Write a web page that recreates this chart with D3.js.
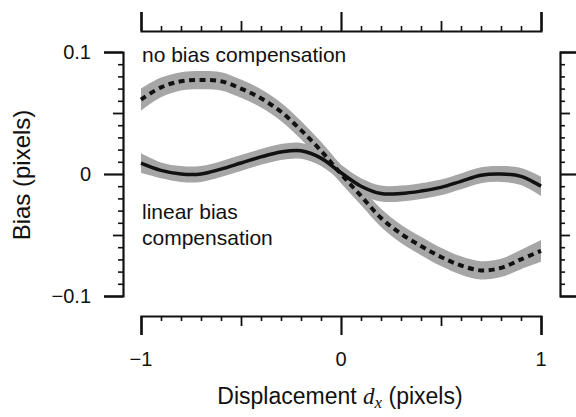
<!DOCTYPE html>
<html>
<head>
<meta charset="utf-8">
<script src="https://cdn.jsdelivr.net/npm/d3@7"></script>
<style>
  html, body { margin: 0; padding: 0; background: #fff; }
  svg { display: block; }
  text { font-family: "Liberation Sans", Arial, Helvetica, sans-serif; fill: #111; }
</style>
</head>
<body>
<svg id="chart" width="576" height="417"></svg>
<script>
// ---- data ----
const displacement = [-1.0,-0.9,-0.8,-0.7,-0.6,-0.5,-0.4,-0.3,-0.2,-0.1,0.0,0.1,0.2,0.3,0.4,0.5,0.6,0.7,0.8,0.9,1.0];
const biasNoComp   = [0.061,0.071,0.076,0.077,0.076,0.070,0.062,0.051,0.036,0.019,0.000,-0.018,-0.036,-0.049,-0.059,-0.068,-0.075,-0.079,-0.077,-0.070,-0.063];
const bandNoComp   = [0.009,0.008,0.0075,0.0075,0.0075,0.0075,0.0075,0.0075,0.0075,0.0075,0.0075,0.0075,0.0075,0.0075,0.0075,0.0075,0.0075,0.0075,0.0075,0.008,0.009];
const biasLinComp  = [0.009,0.003,0.000,0.000,0.004,0.009,0.014,0.018,0.019,0.013,0.001,-0.010,-0.016,-0.016,-0.014,-0.011,-0.006,-0.001,0.000,-0.002,-0.010];
const bandLinComp  = [0.008,0.0065,0.0065,0.0065,0.0065,0.0065,0.0065,0.0065,0.0065,0.0065,0.0065,0.0065,0.0065,0.0065,0.0065,0.0065,0.0065,0.0065,0.0065,0.007,0.008];
const xMajorTicks  = [-1, 0, 1];
const xTickLabels  = ["\u22121", "0", "1"];
const yMajorTicks  = [-0.1, 0, 0.1];
const yTickLabels  = ["\u22120.1", "0", "0.1"];
const labelNoComp  = "no bias compensation";
const labelLinComp = ["linear bias", "compensation"];

// ---- layout ----
const svg = d3.select("#chart");
const x = d3.scaleLinear().domain([-1, 1]).range([141, 541]);
const y = d3.scaleLinear().domain([-0.1, 0.1]).range([296, 52]);

const xMinor = d3.range(-10, 11).map(i => i / 10).filter(v => Math.abs(v) !== 1 && v !== 0 && Math.abs(v) !== 0.5);
const xMed = [-0.5, 0.5];
const yMinor = d3.range(-10, 11).map(i => i / 100).filter(v => Math.abs(v) !== 0.1 && v !== 0 && Math.abs(v) !== 0.05);
const yMed = [-0.05, 0.05];

const MAJ = 19, MED = 10, MIN = 5;

function styleAxis(g, sw) {
  g.selectAll("path.domain").attr("stroke", "#111").attr("stroke-width", 2.2);
  g.selectAll(".tick line").attr("stroke", "#111").attr("stroke-width", sw || 1.8);
  g.selectAll(".tick text").remove();
}

function drawAxis(axisFn, scale, pos, transform) {
  const g = svg.append("g").attr("transform", transform);
  g.append("g").call(axisFn(scale).tickValues(pos.minor).tickSize(MIN).tickSizeOuter(0).tickFormat(""))
    .call(g2 => { g2.select("path.domain").remove(); styleAxis(g2, 1.6); });
  g.append("g").call(axisFn(scale).tickValues(pos.med).tickSize(MED).tickSizeOuter(0).tickFormat(""))
    .call(g2 => { g2.select("path.domain").remove(); styleAxis(g2, 1.8); });
  g.append("g").call(axisFn(scale).tickValues(pos.major).tickSize(MAJ).tickSizeOuter(MAJ).tickFormat(""))
    .call(g2 => styleAxis(g2, 2.2));
  return g;
}

// axes (range-frame, ticks outward)
drawAxis(d3.axisBottom, x, {minor: xMinor, med: xMed, major: xMajorTicks}, "translate(0,316)");
drawAxis(d3.axisTop, x, {minor: xMinor, med: xMed, major: xMajorTicks}, "translate(0,31)");
drawAxis(d3.axisLeft, y, {minor: yMinor, med: yMed, major: yMajorTicks}, "translate(123,0)");
drawAxis(d3.axisRight, y, {minor: yMinor, med: yMed, major: yMajorTicks}, "translate(560,0)");

// tick labels
svg.append("g").selectAll("text").data(xMajorTicks).join("text")
  .attr("x", d => x(d)).attr("y", 366).attr("text-anchor", "middle")
  .attr("font-size", 20).text((d, i) => xTickLabels[i]);
svg.append("g").selectAll("text").data(yMajorTicks).join("text")
  .attr("x", 91).attr("y", d => y(d) + 7).attr("text-anchor", "end")
  .attr("font-size", 20).text((d, i) => yTickLabels[i]);

// axis titles
const xt = svg.append("text").attr("x", 340).attr("y", 404).attr("text-anchor", "middle").attr("font-size", 23);
xt.append("tspan").text("Displacement ");
xt.append("tspan").attr("font-family", "'Liberation Serif', 'Times New Roman', serif").attr("font-style", "italic").text("d");
xt.append("tspan").attr("font-family", "'Liberation Serif', 'Times New Roman', serif").attr("font-style", "italic")
  .attr("font-size", 17).attr("dy", 4).text("x");
xt.append("tspan").attr("dy", -4).text(" (pixels)");

svg.append("text").attr("transform", "translate(30,175) rotate(-90)")
  .attr("text-anchor", "middle").attr("font-size", 24).text("Bias (pixels)");

// data
const rows = (vals, band) => displacement.map((d, i) => ({x: d, y: vals[i], b: band[i]}));
const dNo = rows(biasNoComp, bandNoComp);
const dLin = rows(biasLinComp, bandLinComp);

const area = d3.area().x(d => x(d.x)).y0(d => y(d.y - d.b)).y1(d => y(d.y + d.b)).curve(d3.curveCatmullRom);
const line = d3.line().x(d => x(d.x)).y(d => y(d.y)).curve(d3.curveCatmullRom);

const bandColor = "#a6a6a6";
svg.append("path").datum(dLin).attr("d", area).attr("fill", bandColor);
svg.append("path").datum(dNo).attr("d", area).attr("fill", bandColor);
svg.append("path").datum(dLin).attr("d", line).attr("fill", "none").attr("stroke", "#111").attr("stroke-width", 3.5);
svg.append("path").datum(dNo).attr("d", line).attr("fill", "none").attr("stroke", "#111").attr("stroke-width", 4)
  .attr("stroke-dasharray", "6,4.5");

// annotations
svg.append("text").attr("x", 142).attr("y", 62).attr("font-size", 21).text(labelNoComp);
svg.append("g").selectAll("text").data(labelLinComp).join("text")
  .attr("x", 142).attr("y", (d, i) => 219 + i * 26).attr("font-size", 21).text(d => d);
</script>
</body>
</html>
